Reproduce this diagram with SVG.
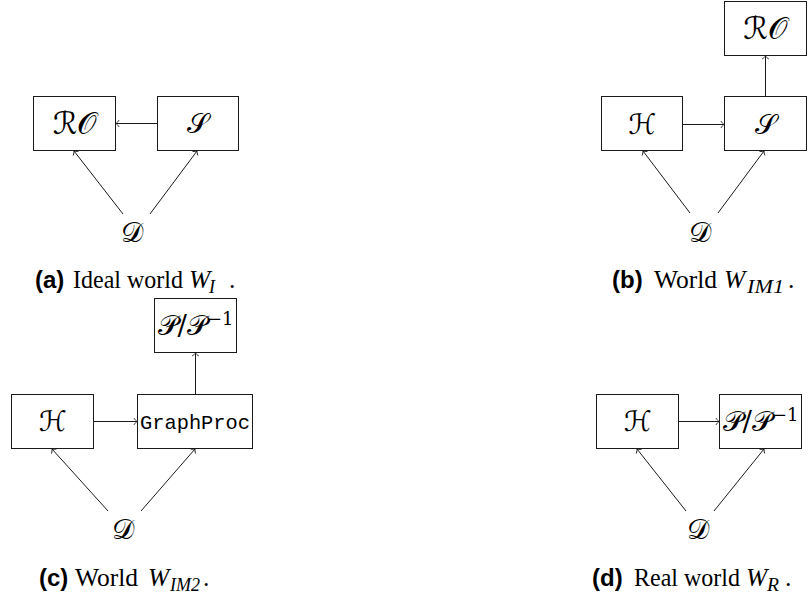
<svg xmlns="http://www.w3.org/2000/svg" width="808" height="601" viewBox="0 0 808 601">
<style>
.box{fill:#fff;stroke:#1a1a1a;stroke-width:1}
.edge{fill:none;stroke:#1a1a1a;stroke-width:1;marker-end:url(#to)}
.m{font-family:'DejaVu Serif','DejaVu Sans','Noto Sans',serif;font-size:28px;fill:#000;text-anchor:middle}
.ro{font-size:31px}
.tt{font-family:'Liberation Mono','DejaVu Sans Mono',monospace;font-size:21px;fill:#000;text-anchor:middle}
.cl{font-family:'Liberation Sans',Arial,sans-serif;font-weight:bold;font-size:24px;fill:#000}
.ct{font-family:'Liberation Serif','Times New Roman',serif;font-size:25.5px;fill:#000}
.ci{font-family:'Liberation Serif','Times New Roman',serif;font-style:italic;font-size:25.5px;fill:#000}
.cs{font-family:'Liberation Serif','Times New Roman',serif;font-style:italic;font-size:18px;fill:#000}
</style>
<defs>
<marker id="to" markerWidth="10" markerHeight="10" viewBox="-5 -5 10 10" refX="0" refY="0" orient="auto" markerUnits="userSpaceOnUse">
<path d="M-3,-3.4 C-2,-1.6 -0.6,-0.4 0,0 C-0.6,0.4 -2,1.6 -3,3.4" fill="none" stroke="#1a1a1a" stroke-width="0.9"/>
</marker>
</defs>

<g id="connectors">
<path class="edge" d="M157.5,123.5 H116"/>
<path class="edge" d="M123,214 L74,151"/>
<path class="edge" d="M150,214 L197,151"/>
<path class="edge" d="M682.5,124.5 H724"/>
<path class="edge" d="M765.5,96.5 V56"/>
<path class="edge" d="M690,213 L643,151"/>
<path class="edge" d="M718,213 L764,151"/>
<path class="edge" d="M93.5,421.5 H137"/>
<path class="edge" d="M195.5,394.5 V353"/>
<path class="edge" d="M108,511 L52,449"/>
<path class="edge" d="M141,511 L195,449"/>
<path class="edge" d="M678.5,421.5 H719"/>
<path class="edge" d="M686,511 L637,449"/>
<path class="edge" d="M714,511 L764,449"/>
</g>

<g id="a-RO"><rect class="box" x="33.5" y="96.5" width="82" height="54"/><text class="m ro" x="75" y="134">ℛ𝒪</text></g>
<g id="a-S"><rect class="box" x="157.5" y="96.5" width="81" height="54"/><text class="m" x="198" y="133">𝒮</text></g>
<g id="a-D"><text class="m" x="132" y="242">𝒟</text></g>
<g id="a-caption"><text class="cl" x="35" y="288">(a)</text><text class="ct" x="73" y="288" textLength="110" lengthAdjust="spacingAndGlyphs">Ideal world</text><text class="ci" x="189" y="288">W</text><text class="cs" x="209" y="293">I</text><text class="ct" x="229" y="288">.</text></g>

<g id="b-RO"><rect class="box" x="724.5" y="1.5" width="82" height="54"/><text class="m ro" x="765.5" y="39">ℛ𝒪</text></g>
<g id="b-H"><rect class="box" x="601.5" y="96.5" width="81" height="54"/><text class="m" x="642" y="134">ℋ</text></g>
<g id="b-S"><rect class="box" x="724.5" y="96.5" width="82" height="54"/><text class="m" x="765.5" y="134">𝒮</text></g>
<g id="b-D"><text class="m" x="700" y="242">𝒟</text></g>
<g id="b-caption"><text class="cl" x="612" y="288">(b)</text><text class="ct" x="654" y="288">World</text><text class="ci" x="724" y="288">W</text><text class="cs" x="747" y="293" textLength="37" lengthAdjust="spacingAndGlyphs">IM1</text><text class="ct" x="788" y="288">.</text></g>

<g id="c-P"><rect class="box" x="154.5" y="298.5" width="82" height="54"/><text class="m" x="195.5" y="335">𝒫/𝒫<tspan font-size="18" dy="-10">−1</tspan></text></g>
<g id="c-H"><rect class="box" x="11.5" y="394.5" width="82" height="54"/><text class="m" x="52.5" y="431">ℋ</text></g>
<g id="c-G"><rect class="box" x="137.5" y="394.5" width="115" height="54"/><text class="tt" x="195" y="429" textLength="110" lengthAdjust="spacingAndGlyphs">GraphProc</text></g>
<g id="c-D"><text class="m" x="123" y="539">𝒟</text></g>
<g id="c-caption"><text class="cl" x="39" y="586">(c)</text><text class="ct" x="75" y="586">World</text><text class="ci" x="148" y="586">W</text><text class="cs" x="170" y="591" textLength="30" lengthAdjust="spacingAndGlyphs">IM2</text><text class="ct" x="203" y="586">.</text></g>

<g id="d-H"><rect class="box" x="596.5" y="394.5" width="82" height="54"/><text class="m" x="637.5" y="431">ℋ</text></g>
<g id="d-P"><rect class="box" x="719.5" y="394.5" width="82" height="54"/><text class="m" x="760.5" y="431">𝒫/𝒫<tspan font-size="18" dy="-10">−1</tspan></text></g>
<g id="d-D"><text class="m" x="698" y="539">𝒟</text></g>
<g id="d-caption"><text class="cl" x="592" y="586">(d)</text><text class="ct" x="634" y="586" textLength="106" lengthAdjust="spacingAndGlyphs">Real world</text><text class="ci" x="746" y="586">W</text><text class="cs" x="767" y="591" textLength="12" lengthAdjust="spacingAndGlyphs">R</text><text class="ct" x="785" y="586">.</text></g>
</svg>
